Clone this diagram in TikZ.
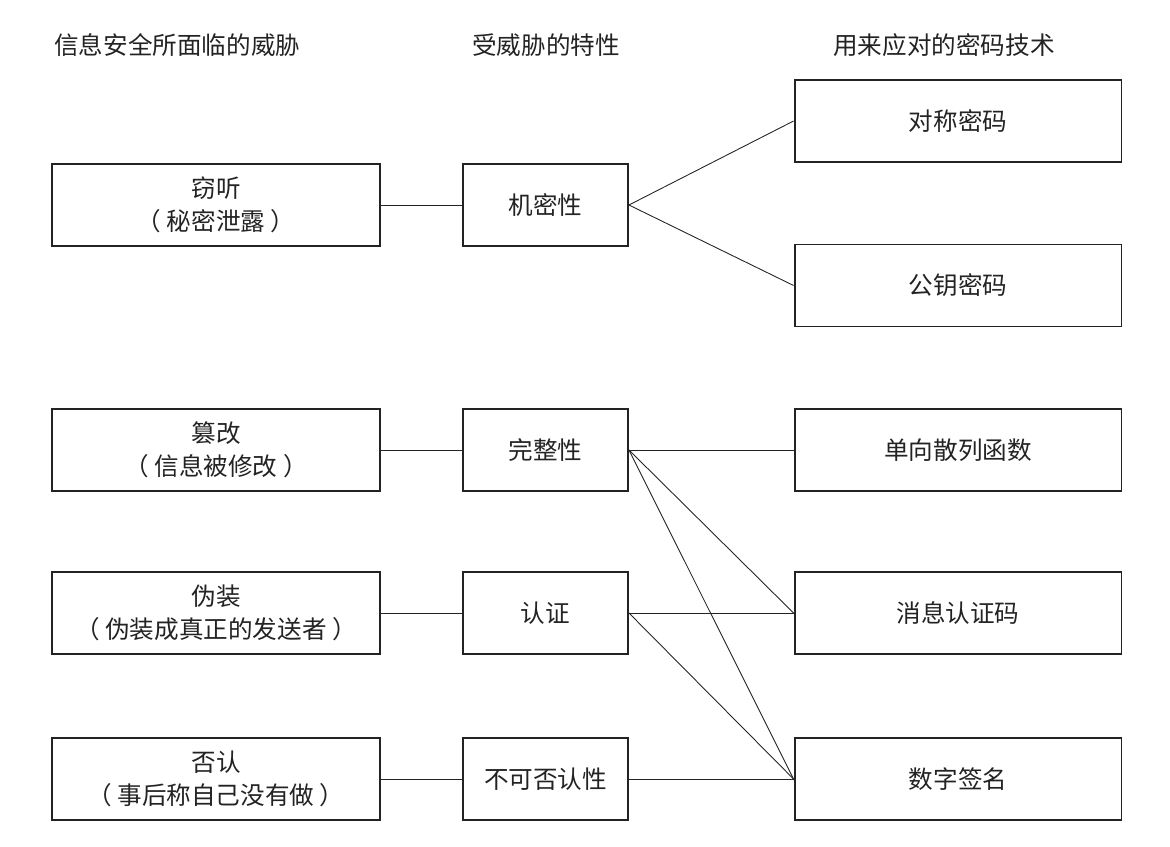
\documentclass[tikz,border=0pt]{standalone}
\usepackage{fontspec}
\setmainfont{Noto Sans CJK SC}
\usepackage{tikz}
\usetikzlibrary{positioning}
\definecolor{inkgray}{RGB}{35,35,35}
\tikzset{
  threatbox/.style={rectangle, draw=inkgray, line width=1.1pt,
    minimum width=6.56cm, minimum height=1.64cm, align=center,
    font=\fontsize{14pt}{19pt}\selectfont, text=inkgray, inner sep=0pt},
  propbox/.style={threatbox, minimum width=3.3cm},
  techbox/.style={threatbox, minimum width=6.54cm},
  hdr/.style={anchor=west, font=\fontsize{14pt}{17pt}\selectfont, text=inkgray, inner sep=0pt},
  link/.style={line width=0.5pt, color=inkgray}
}
\begin{document}
\begin{tikzpicture}[x=0.02cm, y=-0.02cm]
  \useasboundingbox (0,0) rectangle (1170,846);
  % column headings
  \node[hdr] (h1) at (54,45) {信息安全所面临的威胁};
  \node[hdr] (h2) at (472,45) {受威胁的特性};
  \node[hdr] (h3) at (833,45) {用来应对的密码技术};
  % threats
  \node[threatbox] (eaves) at (216,205) {窃听\\（\ 秘密泄露\ ）};
  \node[threatbox] (tamper) at (216,450) {篡改\\（\ 信息被修改\ ）};
  \node[threatbox] (spoof) at (216,613) {伪装\\（\ 伪装成真正的发送者\ ）};
  \node[threatbox] (deny) at (216,779) {否认\\（\ 事后称自己没有做\ ）};
  % properties
  \node[propbox] (conf) at (545.5,205) {机密性};
  \node[propbox] (integ) at (545.5,450) {完整性};
  \node[propbox] (auth) at (545.5,613) {认证};
  \node[propbox] (nonrep) at (545.5,779) {不可否认性};
  % techniques
  \node[techbox] (sym) at (958,121) {对称密码};
  \node[techbox] (pub) at (958,285.5) {公钥密码};
  \node[techbox] (hash) at (958,450) {单向散列函数};
  \node[techbox] (mac) at (958,613) {消息认证码};
  \node[techbox] (sig) at (958,779) {数字签名};
  % threat -- property
  \draw[link] (eaves) -- (conf);
  \draw[link] (tamper) -- (integ);
  \draw[link] (spoof) -- (auth);
  \draw[link] (deny) -- (nonrep);
  % property -- technique
  \draw[link] (conf.east) -- (sym.west);
  \draw[link] (conf.east) -- (pub.west);
  \draw[link] (integ.east) -- (hash.west);
  \draw[link] (integ.east) -- (mac.west);
  \draw[link] (integ.east) -- (sig.west);
  \draw[link] (auth.east) -- (mac.west);
  \draw[link] (auth.east) -- (sig.west);
  \draw[link] (nonrep.east) -- (sig.west);
\end{tikzpicture}
\end{document}
